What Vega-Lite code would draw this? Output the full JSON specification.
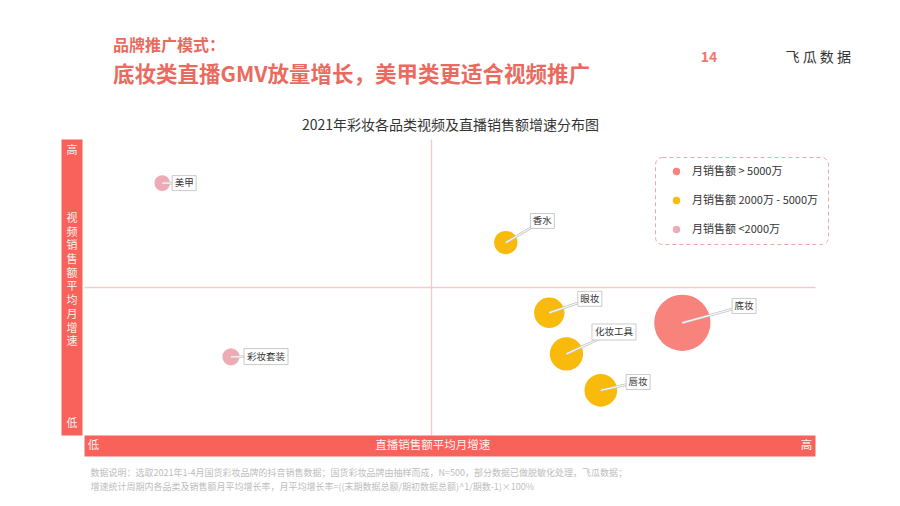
{
  "$schema": "https://vega.github.io/schema/vega-lite/v6.json",
  "autosize": {"type": "none"},
  "width": 731,
  "height": 296,
  "padding": {"left": 84, "top": 139, "right": 85, "bottom": 71},
  "background": "#ffffff",
  "title": {
    "text": "品牌推广模式：",
    "subtitle": "底妆类直播GMV放量增长，美甲类更适合视频推广",
    "anchor": "start",
    "frame": "group",
    "dx": 29,
    "offset": -36,
    "font": "Noto Sans CJK SC",
    "fontSize": 16,
    "fontWeight": "bold",
    "color": "#e96a5e",
    "subtitleFont": "Noto Sans CJK SC",
    "subtitleFontSize": 21.5,
    "subtitleFontWeight": "bold",
    "subtitleColor": "#e96a5e",
    "subtitlePadding": 11
  },
  "data": {
    "values": [
      {"品类": "美甲", "直播增速": 10.7, "视频增速": 85.1, "月销售额": 920, "档位": "<2000万", "标签x": 13.7, "标签y": 85.1},
      {"品类": "彩妆套装", "直播增速": 20.1, "视频增速": 26.4, "月销售额": 1090, "档位": "<2000万", "标签x": 24.9, "标签y": 26.5},
      {"品类": "香水", "直播增速": 57.7, "视频增速": 65.0, "月销售额": 2050, "档位": "2000万 - 5000万", "标签x": 62.7, "标签y": 72.3},
      {"品类": "眼妆", "直播增速": 63.65, "视频增速": 41.3, "月销售额": 3450, "档位": "2000万 - 5000万", "标签x": 69.2, "标签y": 46.0},
      {"品类": "化妆工具", "直播增速": 66.0, "视频增速": 27.4, "月销售额": 4150, "档位": "2000万 - 5000万", "标签x": 72.5, "标签y": 34.8},
      {"品类": "唇妆", "直播增速": 70.7, "视频增速": 15.1, "月销售额": 4000, "档位": "2000万 - 5000万", "标签x": 75.8, "标签y": 17.9},
      {"品类": "底妆", "直播增速": 81.85, "视频增速": 37.9, "月销售额": 11900, "档位": "> 5000万", "标签x": 90.3, "标签y": 43.6}
    ]
  },
  "layer": [
    {
      "mark": {"type": "rule", "color": "#c9c9c9", "strokeWidth": 2.4},
      "encoding": {
        "x": {
          "field": "直播增速", "type": "quantitative",
          "scale": {"domain": [0, 100], "nice": false, "zero": false},
          "axis": {
            "orient": "top", "domain": false, "ticks": false, "tickSize": 0, "grid": false,
            "values": [84.3, 95.9],
            "labelExpr": "datum.value < 90 ? '14' : '飞 瓜 数 据'",
            "labelAlign": "left", "labelBaseline": "middle", "labelPadding": 82,
            "labelFontSize": 14, "labelFlush": false, "labelOverlap": false, "labelBound": false, "labelLimit": 300,
            "labelColor": {"condition": {"test": "datum.value < 90", "value": "#ec7a6c"}, "value": "#333333"},
            "labelFontWeight": {"condition": {"test": "datum.value < 90", "value": "bold"}, "value": "normal"},
            "title": "2021年彩妆各品类视频及直播销售额增速分布图",
            "titleX": 366, "titleY": -14, "titleAngle": 0, "titleAlign": "center", "titleBaseline": "middle",
            "titleColor": "#333333", "titleFontSize": 14, "titleFontWeight": "normal", "titleLimit": 1000
          }
        },
        "y": {
          "field": "视频增速", "type": "quantitative",
          "scale": {"domain": [0, 100], "nice": false, "zero": false},
          "axis": {
            "orient": "right", "domain": false, "ticks": false, "labels": false,
            "grid": true, "gridColor": "#f4caca", "gridWidth": 1.5, "values": [50],
            "title": [
              "数据说明：选取2021年1-4月国货彩妆品牌的抖音销售数据；国货彩妆品牌由抽样而成，N=500，部分数据已做脱敏化处理，飞瓜数据；",
              "增速统计周期内各品类及销售额月平均增长率，月平均增长率=((末期数据总额/期初数据总额)^1/期数-1)×100%"
            ],
            "titleX": -725, "titleY": 329, "titleAngle": 0, "titleAlign": "left", "titleBaseline": "top",
            "titleColor": "#bdbdbd", "titleFontSize": 9, "titleFontWeight": "normal", "titleLineHeight": 14, "titleLimit": 1000
          }
        },
        "x2": {"field": "标签x"},
        "y2": {"field": "标签y"}
      }
    },
    {
      "mark": {"type": "circle", "opacity": 1},
      "encoding": {
        "x": {
          "field": "直播增速", "type": "quantitative",
          "scale": {"domain": [0, 100], "nice": false, "zero": false},
          "axis": {
            "orient": "bottom", "offset": 10.5,
            "domain": true, "domainColor": "#f9625b", "domainWidth": 21, "domainCap": "butt",
            "ticks": false, "labels": false,
            "grid": true, "gridColor": "#f4caca", "gridWidth": 1.3, "values": [47.5],
            "title": "低　　　　　　　　　　　　　　　　　　　　　　　　直播销售额平均月增速　　　　　　　　　　　　　　　　　　　　　　　　　　　高",
            "titleX": 365.5, "titleY": 0, "titleAlign": "center", "titleBaseline": "middle",
            "titleColor": "#fff1ef", "titleFontSize": 11.5, "titleFontWeight": "normal", "titleLimit": 1000
          }
        },
        "y": {
          "field": "视频增速", "type": "quantitative",
          "scale": {"domain": [0, 100], "nice": false, "zero": false},
          "axis": {
            "orient": "left", "offset": 12.5,
            "domain": true, "domainColor": "#f9625b", "domainWidth": 21, "domainCap": "butt",
            "ticks": false, "labels": false, "grid": false,
            "title": ["高", "⠀", "⠀", "⠀", "⠀", "视", "频", "销", "售", "额", "平", "均", "月", "增", "速", "⠀", "⠀", "⠀", "⠀", "⠀", "低"],
            "titleX": 0, "titleY": 11, "titleAngle": 0, "titleAlign": "center", "titleBaseline": "middle",
            "titleColor": "#fff1ef", "titleFontSize": 11, "titleFontWeight": "normal", "titleLineHeight": 13.7, "titleLimit": 1000
          }
        },
        "size": {"field": "月销售额", "type": "quantitative", "scale": {"domain": [0, 12000], "range": [0, 3200], "zero": true}, "legend": null},
        "color": {
          "field": "档位",
          "type": "nominal",
          "scale": {"domain": ["> 5000万", "2000万 - 5000万", "<2000万"], "range": ["#f7837c", "#f8bb0b", "#eeaab5"]},
          "legend": {
            "title": null,
            "orient": "none",
            "legendX": 571,
            "legendY": 18,
            "labelExpr": "'月销售额 ' + datum.label",
            "symbolType": "circle",
            "symbolSize": 55,
            "symbolStrokeWidth": 0,
            "symbolOffset": 7,
            "padding": 9,
            "rowPadding": 17,
            "labelFont": "Noto Sans CJK SC",
            "labelFontSize": 11,
            "labelColor": "#333333",
            "labelOffset": 10,
            "strokeColor": "#eaa8a8",
            "cornerRadius": 7
          }
        }
      }
    },
    {
      "mark": {"type": "rule", "color": "#c9c9c9", "strokeWidth": 2.4},
      "encoding": {
        "x": {"field": "直播增速", "type": "quantitative", "axis": null},
        "y": {"field": "视频增速", "type": "quantitative", "axis": null},
        "x2": {"field": "标签x"},
        "y2": {"field": "标签y"}
      }
    },
    {
      "mark": {"type": "rule", "color": "#ffffff", "strokeWidth": 1},
      "encoding": {
        "x": {"field": "直播增速", "type": "quantitative", "axis": null},
        "y": {"field": "视频增速", "type": "quantitative", "axis": null},
        "x2": {"field": "标签x"},
        "y2": {"field": "标签y"}
      }
    },
    {
      "transform": [{"filter": "length(datum['品类']) == 2"}],
      "mark": {"type": "point", "shape": "M-1,-0.625H1V0.625H-1Z", "size": 576, "filled": true, "fill": "#ffffff", "stroke": "#bdbdbd", "strokeWidth": 0.8, "opacity": 1},
      "encoding": {
        "x": {"field": "标签x", "type": "quantitative", "axis": null},
        "y": {"field": "标签y", "type": "quantitative", "axis": null}
      }
    },
    {
      "transform": [{"filter": "length(datum['品类']) == 4"}],
      "mark": {"type": "point", "shape": "M-1,-0.364H1V0.364H-1Z", "size": 1936, "filled": true, "fill": "#ffffff", "stroke": "#bdbdbd", "strokeWidth": 0.8, "opacity": 1},
      "encoding": {
        "x": {"field": "标签x", "type": "quantitative", "axis": null},
        "y": {"field": "标签y", "type": "quantitative", "axis": null}
      }
    },
    {
      "mark": {"type": "text", "font": "Noto Sans CJK SC", "fontSize": 9.5, "color": "#333333", "align": "center", "baseline": "middle"},
      "encoding": {
        "x": {"field": "标签x", "type": "quantitative", "axis": null},
        "y": {"field": "标签y", "type": "quantitative", "axis": null},
        "text": {"field": "品类", "type": "nominal"}
      }
    }
  ],
  "resolve": {"axis": {"x": "independent", "y": "independent"}},
  "config": {
    "view": {"stroke": null},
    "axis": {"labelFont": "Noto Sans CJK SC", "titleFont": "Noto Sans CJK SC"},
    "legend": {"strokeDash": [4, 3]}
  }
}
